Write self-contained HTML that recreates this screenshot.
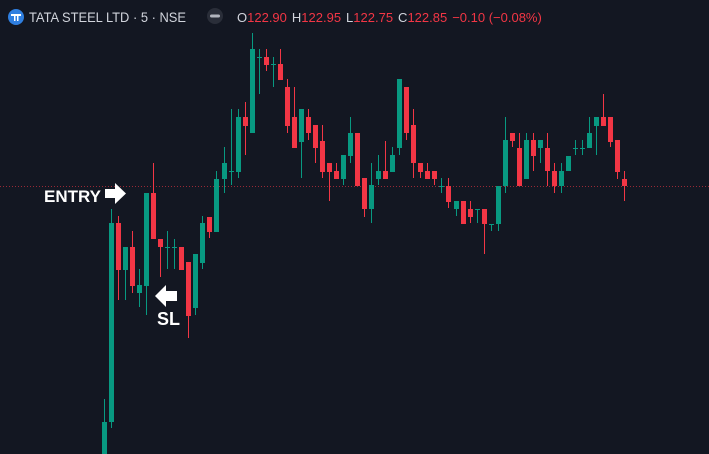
<!DOCTYPE html>
<html><head><meta charset="utf-8"><style>
html,body{margin:0;padding:0;background:#131722;}
body{width:709px;height:454px;overflow:hidden;position:relative;font-family:"Liberation Sans",sans-serif;}
svg{position:absolute;left:0;top:0;}
</style></head><body>
<svg id="chart" width="709" height="454">
  <rect x="0" y="0" width="709" height="454" fill="#131722"/>
  <g id="marks"></g>
  <g>
    <circle cx="16" cy="17" r="8" fill="#2f7fe0"/>
    <rect x="11" y="14" width="10" height="2" fill="#fff"/>
    <rect x="14" y="16" width="1.5" height="5" fill="#fff"/><rect x="17" y="16" width="1.5" height="5" fill="#fff"/>
    <text x="29" y="22" fill="#d1d4dc" font-size="13.5" textLength="157" lengthAdjust="spacingAndGlyphs">TATA STEEL LTD · 5 · NSE</text>
    <circle cx="215" cy="16" r="8" fill="#2a2e39"/>
    <rect x="210" y="14.5" width="10" height="3" rx="1.5" fill="#b2b5be"/>
    <text x="237" y="22" font-size="13"><tspan fill="#d1d4dc">O</tspan><tspan fill="#f23645">122.90</tspan><tspan fill="#d1d4dc" dx="5">H</tspan><tspan fill="#f23645">122.95</tspan><tspan fill="#d1d4dc" dx="5">L</tspan><tspan fill="#f23645">122.75</tspan><tspan fill="#d1d4dc" dx="5">C</tspan><tspan fill="#f23645">122.85</tspan><tspan fill="#f23645" dx="5">−0.10 (−0.08%)</tspan></text>
  </g>
  <g>
    <text x="44" y="202" fill="#ffffff" font-size="17" font-weight="bold" textLength="57" lengthAdjust="spacingAndGlyphs">ENTRY</text>
    <polygon points="105,189 115,189 115,183 126,193.5 115,204 115,198 105,198" fill="#ffffff"/>
  </g>
  <g>
    <polygon points="177,291 166,291 166,285 155,296 166,307 166,301 177,301" fill="#ffffff"/>
    <text x="157" y="325" fill="#ffffff" font-size="18" font-weight="bold">SL</text>
  </g>
</svg>
<script>
const opens=[120.932,121.198,122.591,122.262,122.423,122.101,122.150,122.801,122.479,122.423,122.423,122.423,122.318,121.996,122.311,122.633,122.528,122.899,122.955,122.948,123.333,123.221,123.753,123.753,123.704,123.704,123.543,123.333,123.158,123.333,123.277,123.165,123.011,122.955,122.899,123.060,123.221,122.906,122.689,122.899,122.955,122.948,123.116,123.543,123.277,123.011,122.955,122.955,122.850,122.850,122.689,122.745,122.689,122.689,122.689,122.584,122.584,122.850,123.221,123.116,122.899,123.172,123.116,123.116,122.955,122.850,122.955,123.116,123.116,123.116,123.270,123.333,123.333,123.172,122.899];
const highs=[121.359,122.689,122.640,122.423,122.535,122.269,122.801,123.011,122.479,122.535,122.479,122.423,122.318,122.374,122.640,122.633,122.955,123.123,123.389,123.389,123.438,123.921,123.809,123.809,123.753,123.809,123.599,123.543,123.389,123.389,123.277,123.277,123.011,123.011,123.067,123.333,123.221,122.906,123.011,123.067,123.165,123.123,123.599,123.543,123.389,123.011,123.011,122.955,122.906,122.906,122.745,122.745,122.745,122.689,122.689,122.584,122.850,123.333,123.221,123.221,123.221,123.221,123.172,123.221,123.011,123.011,123.060,123.172,123.172,123.333,123.333,123.494,123.333,123.172,122.955];
const lows=[120.897,121.156,122.052,122.052,122.101,122.003,121.947,122.479,122.213,122.269,122.269,122.262,121.786,121.947,122.269,122.486,122.528,122.801,122.857,122.906,123.067,123.221,123.494,123.655,123.543,123.592,123.221,123.116,122.906,123.172,123.011,122.906,122.745,122.899,122.857,123.011,122.850,122.633,122.591,122.857,122.899,122.948,123.067,123.172,122.906,122.906,122.899,122.857,122.801,122.696,122.640,122.584,122.591,122.591,122.374,122.535,122.535,122.801,123.123,122.850,122.899,122.955,123.011,122.850,122.801,122.801,122.955,123.067,123.067,123.116,123.067,123.270,123.123,122.899,122.745];
const closes=[121.198,122.591,122.262,122.423,122.150,122.157,122.801,122.479,122.423,122.423,122.423,122.262,121.940,122.374,122.591,122.528,122.899,123.011,122.955,123.333,123.270,123.809,123.753,123.697,123.704,123.592,123.270,123.116,123.389,123.221,123.116,122.948,122.948,122.899,123.067,123.221,122.850,122.689,122.857,122.955,122.899,123.067,123.599,123.221,123.011,122.948,122.899,122.899,122.850,122.738,122.745,122.584,122.633,122.689,122.584,122.584,122.850,123.172,123.165,122.850,123.172,123.060,123.172,122.955,122.850,122.955,123.060,123.116,123.116,123.221,123.333,123.270,123.158,122.948,122.850];
const lastPrice=122.85;

const X0=104, DX=7.03, BW=5;
function xPos(i){return X0+i*DX;}
function yPos(p){return (124.152-p)/0.007;}
const NS='http://www.w3.org/2000/svg';
const g=document.getElementById('marks');

const pl=document.createElementNS(NS,'line');


pl.setAttribute('x1',0);pl.setAttribute('x2',709);
pl.setAttribute('y1',yPos(lastPrice)+0.5);pl.setAttribute('y2',yPos(lastPrice)+0.5);
pl.setAttribute('stroke','#f23645');pl.setAttribute('stroke-opacity','0.6');pl.setAttribute('stroke-dasharray','1,2');
g.appendChild(pl);

for(let i=0;i<opens.length;i++){
  const up=closes[i]>=opens[i];
  const col=up?'#089981':'#f23645';
  const cx=Math.round(xPos(i));
  const grp=document.createElementNS(NS,'g');
  
  
  const w=document.createElementNS(NS,'rect');
  
  
  const yh=yPos(highs[i]), yl=yPos(lows[i]);
  w.setAttribute('x',cx);w.setAttribute('width',1);
  w.setAttribute('y',yh);w.setAttribute('height',Math.max(1,yl-yh));
  w.setAttribute('fill',col);
  grp.appendChild(w);
  const b=document.createElementNS(NS,'rect');
  
  
  const yt=yPos(Math.max(opens[i],closes[i])), yb=yPos(Math.min(opens[i],closes[i]));
  b.setAttribute('x',cx-2);b.setAttribute('width',BW);
  b.setAttribute('y',yt);b.setAttribute('height',Math.max(1,yb-yt));
  b.setAttribute('fill',col);
  grp.appendChild(b);
  g.appendChild(grp);
}
</script>
</body></html>
